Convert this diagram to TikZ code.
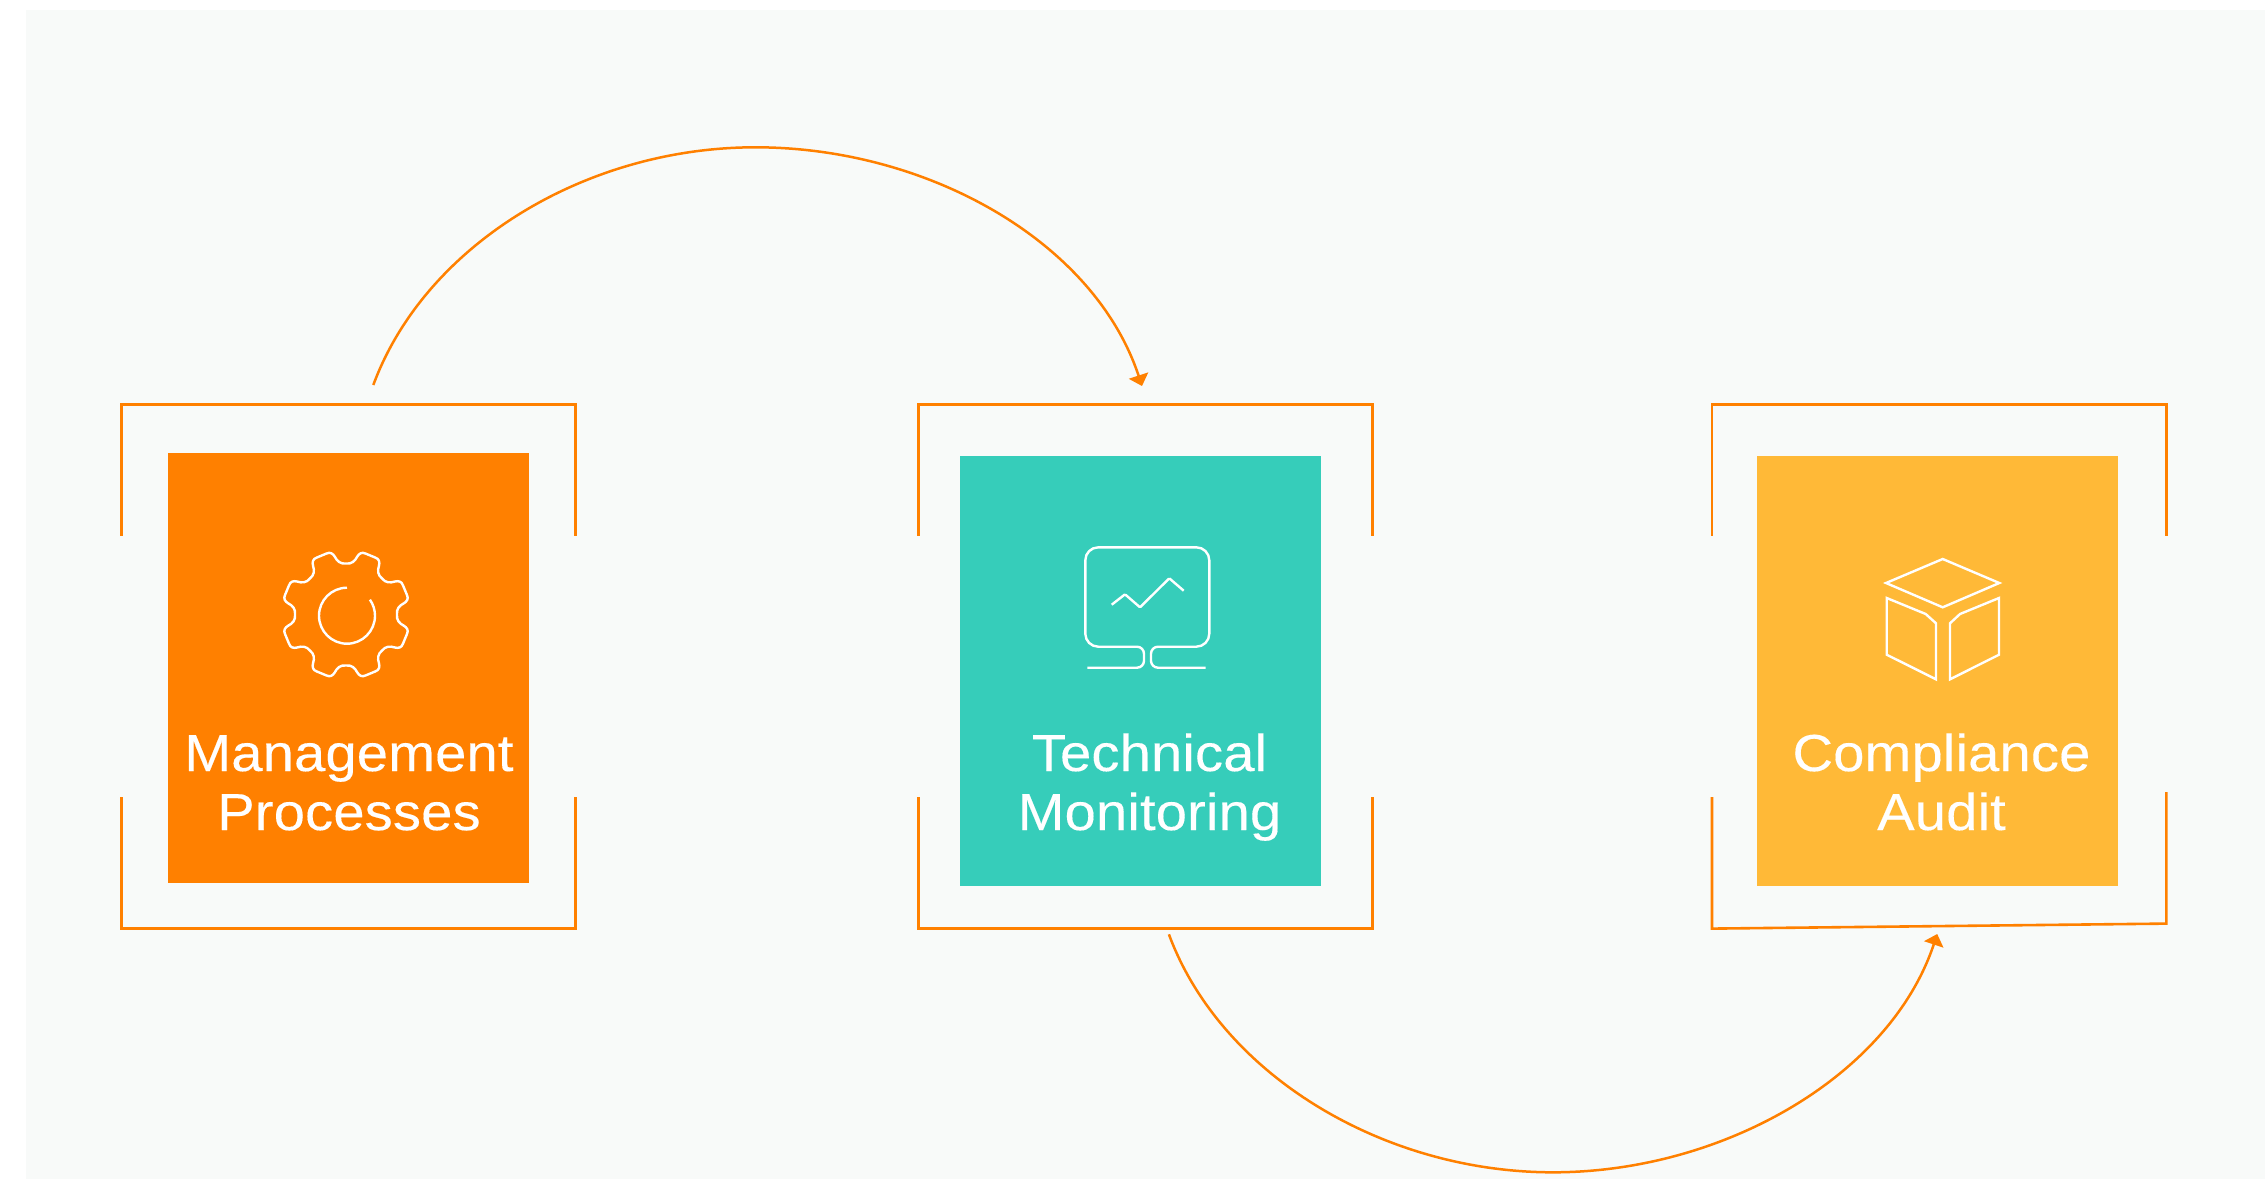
\documentclass[tikz,border=0pt]{standalone}
\usepackage{fontspec}
\setmainfont{Liberation Sans}[FakeStretch=1.08,LetterSpace=0.3,FakeBold=0.25]
\usetikzlibrary{arrows.meta}
\definecolor{brandorange}{HTML}{FF8000}
\definecolor{brandteal}{HTML}{36CDBA}
\definecolor{brandyellow}{HTML}{FFB937}
\definecolor{panelgrey}{HTML}{F8FAF9}
\tikzset{
  x=1pt,y=-1pt,
  cardbox/.style={rectangle,inner sep=0pt,outer sep=0pt,minimum width=361pt,minimum height=430pt},
  cardlabel/.style={text=white,align=center,inner sep=0pt,anchor=base,
    font=\fontsize{52}{59}\selectfont},
  framepart/.style={draw=brandorange,line width=2.6pt,miter limit=10},
  linkcurve/.style={draw=brandorange,line width=2.5pt,-{Triangle[length=11pt,width=20pt]}},
  iconline/.style={draw=white,line width=2.4pt},
}
\begin{document}
\begin{tikzpicture}
\useasboundingbox (0,0) rectangle (2265,1179);
\fill[panelgrey] (26,10) rectangle (2265,1179);

% frames
\draw[framepart] (121.7,535.7) -- (121.7,404.3) -- (575.7,404.3) -- (575.7,535.7);
\draw[framepart] (121.7,797.1) -- (121.7,928.6) -- (575.7,928.6) -- (575.7,797.1);
\draw[framepart] (918.3,535.7) -- (918.3,404.3) -- (1372.7,404.3) -- (1372.7,535.7);
\draw[framepart] (918.3,797.1) -- (918.3,928.6) -- (1372.7,928.6) -- (1372.7,797.1);
\draw[framepart] (1712,535.7) -- (1712,404.3) -- (2166.3,404.3) -- (2166.3,535.7);
\draw[framepart] (1712,797.1) -- (1712,928.6) -- (2166.3,923.6) -- (2166.3,792.1);

% cards
\node[cardbox,fill=brandorange] (management) at (348.5,667.7) {};
\node[cardbox,fill=brandteal] (technical) at (1140.5,671) {};
\node[cardbox,fill=brandyellow] (compliance) at (1937.5,671) {};

% labels
\node[cardlabel] (managementlabel) at (349,830) {Management\\Processes};
\node[cardlabel] (technicallabel) at (1149.5,830) {Technical\\Monitoring};
\node[cardlabel] (compliancelabel) at (1941.5,830) {Compliance\\Audit};

% gear icon
\begin{scope}[shift={(346,614.5)}]
\draw[iconline,line join=round] (0:51)
  \foreach \a in {0,45,...,315} {
    .. controls ({\a+6}:50.5) and ({\a+9.5}:54) .. ({\a+11}:59)
    .. controls ({\a+12}:62) and ({\a+14}:65) .. ({\a+18}:64)
    -- ({\a+27}:64)
    .. controls ({\a+31}:65) and ({\a+33}:62) .. ({\a+34}:59)
    .. controls ({\a+35.5}:54) and ({\a+39}:50.5) .. ({\a+45}:51)
  } -- cycle;
\end{scope}
\draw[iconline] (347,587.7) arc[start angle=-90,delta angle=-305,radius=28];

% monitor icon
\draw[iconline,rounded corners=7pt] (1087.3,667.7) -- (1144,667.7) -- (1144,646.7)
  [rounded corners=13pt] -- (1085.3,646.7) -- (1085.3,547.3) -- (1209.3,547.3) -- (1209.3,646.7)
  [rounded corners=7pt] -- (1151,646.7) -- (1151,667.7) -- (1205.7,667.7);
\draw[iconline,rounded corners=1pt] (1111.7,604.7) -- (1125,594.3) -- (1140,607.3) -- (1169.3,578.3) -- (1183.7,590.7);

% box icon
\draw[iconline] (1942.7,559) -- (1999.3,583) -- (1942.7,607.3) -- (1886,583) -- cycle;
\draw[iconline] (1886.7,598) -- (1925.7,614) -- (1936,623.3) -- (1936,679.3) -- (1886.7,654.7) -- cycle;
\draw[iconline] (1999,598) -- (1960,614) -- (1950,623.3) -- (1950,679.3) -- (1999,654.7) -- cycle;

% connectors
\coordinate (linkAstart) at (373.3,385);
\coordinate (linkAtop) at (755.4,147.3);
\coordinate (linkAend) at (1142,386);
\coordinate (linkBstart) at (1168.9,934.3);
\coordinate (linkBbottom) at (1553,1172.3);
\coordinate (linkBend) at (1937.2,934);
\draw[linkcurve] (linkAstart) .. controls (425,245) and (585.4,147.3) .. (linkAtop)
  .. controls (927,147.3) and (1094,241) .. (linkAend);
\draw[linkcurve] (linkBstart) .. controls (1220.6,1074.3) and (1383,1172.3) .. (linkBbottom)
  .. controls (1723,1172.3) and (1890,1076) .. (linkBend);
\end{tikzpicture}
\end{document}
